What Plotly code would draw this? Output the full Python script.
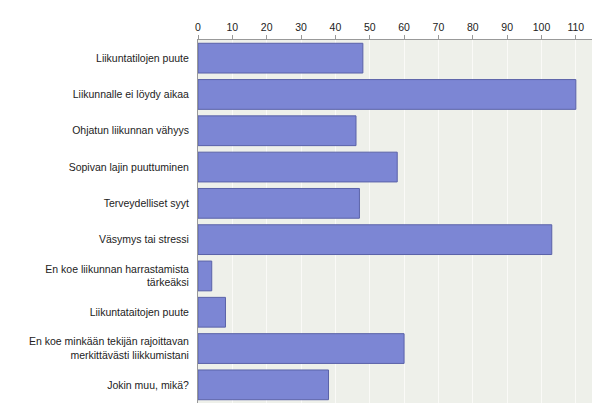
import plotly.graph_objects as go

## data
categories = [
    'Liikuntatilojen puute',
    'Liikunnalle ei löydy aikaa',
    'Ohjatun liikunnan vähyys',
    'Sopivan lajin puuttuminen',
    'Terveydelliset syyt',
    'Väsymys tai stressi',
    'En koe liikunnan harrastamista<br>tärkeäksi',
    'Liikuntataitojen puute',
    'En koe minkään tekijän rajoittavan<br>merkittävästi liikkumistani',
    'Jokin muu, mikä?',
]
values = [48, 110, 46, 58, 47, 103, 4, 8, 60, 38]
tick_vals = list(range(0, 111, 10))

fig = go.Figure(go.Bar(
    x = values, y = categories, orientation = 'h',
    width = 0.82,
    marker = dict(color = '#7c86d4', line = dict(color = '#5a62a8', width = 1)),
))
fig.update_layout(
    width = 600, height = 410,
    margin = dict(l = 190, r = 15, t = 32, b = 15),
    paper_bgcolor = 'white', plot_bgcolor = '#eef0ea',
    showlegend = False,
    font = dict(family = 'Arial, Liberation Sans', size = 10.5, color = '#222'),
)
fig.update_xaxes(
    side = 'top', range = [0, 115], tickvals = tick_vals,
    gridcolor = '#fafaf7', gridwidth = 1, zeroline = False,
    showline = True, linecolor = '#999', ticks = 'outside', ticklen = 4, tickcolor = '#999',
    automargin = False,
)
fig.update_yaxes(
    autorange = 'reversed', showline = True, linecolor = '#999',
    ticks = 'outside', ticklen = 6, tickcolor = 'rgba(0,0,0,0)', automargin = False,
)
fig.write_html('out.html')
